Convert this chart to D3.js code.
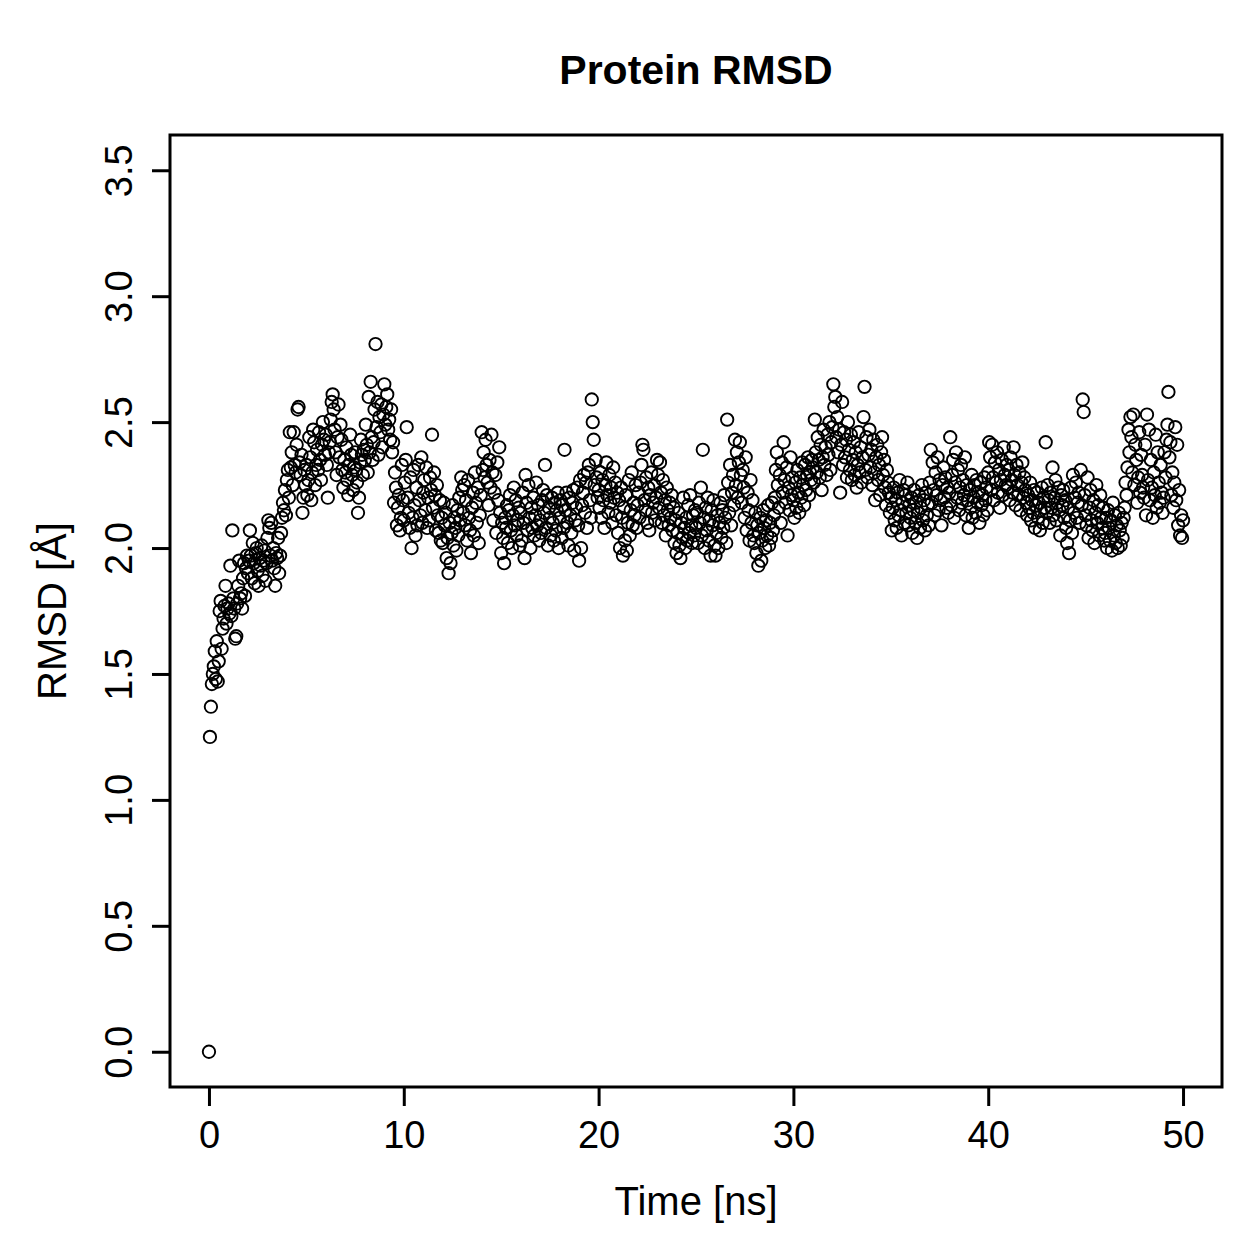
<!DOCTYPE html>
<html>
<head>
<meta charset="utf-8">
<script src="https://cdn.jsdelivr.net/npm/d3@7"></script>
<style>
  body { margin: 0; background: #fff; }
  text { font-family: "Liberation Sans", Arial, Helvetica, sans-serif; fill: #000; }
</style>
</head>
<body>
<div id="chart"></div>
<script>
// sampling step of the trajectory (ns)
var timeStep = 0.05;

// RMSD per frame (Å), one row per nanosecond
var rmsd = [
  0.00,1.25,1.37,1.46,1.50,1.53,1.59,1.48,1.63,1.47,1.55,1.75,1.79,1.60,1.68,1.72,1.77,1.85,1.70,1.76,
  1.78,1.74,1.93,1.73,2.07,1.80,1.76,1.64,1.65,1.78,1.85,1.95,1.80,1.82,1.76,1.88,1.94,1.81,1.92,1.97,
  1.90,1.95,2.07,1.97,1.88,2.02,1.94,1.86,1.98,2.00,1.91,1.85,1.96,1.93,2.01,1.89,1.95,1.99,1.87,1.94,
  2.04,2.11,2.08,1.97,2.10,1.95,2.00,1.92,1.85,1.98,1.96,2.04,1.90,1.97,2.06,2.12,2.18,2.15,2.23,2.13,
  2.27,2.31,2.20,2.46,2.32,2.38,2.25,2.46,2.33,2.30,2.41,2.55,2.56,2.34,2.29,2.37,2.14,2.20,2.31,2.25,
  2.33,2.21,2.27,2.44,2.36,2.19,2.30,2.47,2.42,2.25,2.33,2.39,2.31,2.46,2.35,2.27,2.41,2.50,2.43,2.37,
  2.45,2.33,2.20,2.38,2.42,2.51,2.58,2.61,2.55,2.47,2.38,2.29,2.44,2.57,2.36,2.49,2.43,2.31,2.24,2.35,
  2.30,2.40,2.27,2.21,2.33,2.45,2.37,2.29,2.23,2.32,2.38,2.31,2.26,2.14,2.20,2.34,2.43,2.37,2.29,2.39,
  2.35,2.49,2.41,2.30,2.60,2.38,2.66,2.44,2.35,2.42,2.55,2.81,2.48,2.58,2.37,2.52,2.46,2.57,2.40,2.53,
  2.65,2.49,2.56,2.61,2.47,2.51,2.43,2.55,2.38,2.42,2.18,2.30,2.24,2.09,2.16,2.21,2.07,2.12,2.33,2.19,
  2.11,2.26,2.35,2.48,2.20,2.14,2.08,2.28,2.00,2.12,2.31,2.17,2.05,2.24,2.09,2.33,2.19,2.13,2.36,2.10,
  2.22,2.27,2.15,2.32,2.08,2.20,2.11,2.28,2.23,2.45,2.16,2.30,2.21,2.07,2.25,2.13,2.06,2.19,2.03,2.12,
  2.02,2.18,2.09,2.14,1.96,2.04,1.90,2.10,1.94,2.06,2.17,2.01,2.12,2.08,1.99,2.15,2.05,2.20,2.11,2.28,
  2.23,2.14,2.25,2.09,2.19,2.03,2.27,2.12,2.07,1.98,2.16,2.22,2.05,2.30,2.18,2.10,2.24,2.02,2.13,2.21,
  2.46,2.31,2.38,2.28,2.43,2.33,2.26,2.17,2.35,2.24,2.45,2.30,2.11,2.22,2.29,2.06,2.34,2.19,2.40,2.14,
  1.98,2.10,2.04,1.94,2.12,2.08,2.17,2.02,2.15,2.21,2.07,2.00,2.13,2.24,2.09,2.19,2.05,2.11,2.16,2.01,
  2.14,2.03,2.22,2.10,1.96,2.29,2.18,2.07,2.25,2.12,2.00,2.16,2.08,2.20,2.05,2.13,2.26,2.09,2.17,2.03,
  2.11,2.06,2.19,2.23,2.14,2.33,2.08,2.21,2.01,2.16,2.12,2.05,2.20,2.10,2.03,2.18,2.07,2.15,2.22,2.00,
  2.12,2.19,2.04,2.17,2.08,2.39,2.15,2.22,2.10,2.01,2.20,2.13,2.06,2.18,2.23,1.99,2.11,2.16,2.24,2.09,
  1.95,2.27,2.00,2.17,2.22,2.29,2.14,2.26,2.08,2.30,2.33,2.19,2.12,2.59,2.50,2.43,2.25,2.35,2.28,2.20,
  2.23,2.16,2.30,2.12,2.27,2.19,2.08,2.25,2.34,2.21,2.14,2.29,2.18,2.24,2.10,2.32,2.20,2.26,2.13,2.22,
  2.06,2.19,2.00,2.24,2.12,1.97,2.16,2.03,2.21,1.99,2.10,2.27,2.05,2.15,2.30,2.09,2.18,2.13,2.25,2.08,
  2.17,2.22,2.12,2.26,2.33,2.41,2.39,2.19,2.15,2.28,2.10,2.24,2.07,2.21,2.30,2.14,2.18,2.25,2.11,2.20,
  2.35,2.29,2.16,2.34,2.22,2.10,2.27,2.13,2.19,2.05,2.24,2.15,2.09,2.18,2.12,2.21,2.07,2.16,2.02,2.11,
  1.98,2.06,2.14,2.01,1.96,2.10,2.04,2.20,2.08,2.00,2.12,2.03,2.17,2.06,2.21,2.09,2.02,2.13,2.05,2.15,
  2.08,2.14,2.02,2.18,2.10,2.24,2.05,2.39,2.12,2.00,2.16,2.07,2.20,2.03,2.11,1.97,2.15,2.09,2.19,2.01,
  1.97,2.06,2.13,2.00,2.10,2.18,2.04,2.15,2.08,2.21,2.12,2.02,2.51,2.26,2.14,2.33,2.09,2.22,2.29,2.17,
  2.43,2.25,2.38,2.20,2.34,2.42,2.29,2.18,2.31,2.24,2.12,2.36,2.07,2.22,2.15,2.03,2.27,2.10,2.19,2.05,
  2.02,2.14,1.98,2.09,1.93,2.06,2.12,1.95,2.03,2.15,2.08,2.00,2.11,2.05,2.17,2.01,2.10,2.04,2.18,2.07,
  2.13,2.20,2.31,2.38,2.25,2.16,2.29,2.10,2.34,2.22,2.42,2.27,2.18,2.32,2.05,2.24,2.15,2.36,2.21,2.28,
  2.19,2.12,2.26,2.16,2.31,2.22,2.14,2.28,2.20,2.34,2.25,2.17,2.33,2.23,2.29,2.36,2.21,2.30,2.27,2.35,
  2.32,2.26,2.51,2.38,2.30,2.44,2.35,2.28,2.41,2.23,2.36,2.47,2.33,2.40,2.29,2.45,2.37,2.50,2.31,2.42,
  2.48,2.65,2.56,2.60,2.44,2.52,2.38,2.47,2.22,2.41,2.58,2.33,2.46,2.36,2.43,2.28,2.50,2.39,2.31,2.45,
  2.27,2.35,2.42,2.29,2.38,2.24,2.33,2.46,2.30,2.40,2.26,2.36,2.52,2.64,2.31,2.44,2.28,2.37,2.47,2.32,
  2.39,2.25,2.43,2.30,2.19,2.36,2.41,2.27,2.33,2.21,2.38,2.44,2.29,2.35,2.24,2.17,2.31,2.26,2.22,2.14,
  2.20,2.07,2.16,2.24,2.11,2.19,2.08,2.22,2.13,2.27,2.15,2.05,2.18,2.23,2.10,2.21,2.14,2.26,2.09,2.17,
  2.12,2.20,2.06,2.15,2.23,2.10,2.18,2.04,2.14,2.21,2.08,2.16,2.25,2.11,2.19,2.07,2.22,2.13,2.17,2.09,
  2.26,2.39,2.18,2.34,2.23,2.13,2.30,2.21,2.36,2.15,2.27,2.19,2.09,2.25,2.32,2.20,2.28,2.16,2.24,2.14,
  2.22,2.44,2.17,2.29,2.35,2.12,2.26,2.38,2.20,2.31,2.15,2.24,2.33,2.18,2.27,2.21,2.36,2.13,2.25,2.19,
  2.08,2.23,2.16,2.29,2.12,2.20,2.25,2.14,2.27,2.18,2.22,2.10,2.26,2.17,2.21,2.13,2.28,2.19,2.24,2.15,
  2.30,2.42,2.36,2.23,2.41,2.28,2.19,2.34,2.26,2.38,2.22,2.31,2.16,2.27,2.35,2.21,2.40,2.29,2.25,2.33,
  2.24,2.31,2.19,2.36,2.27,2.22,2.40,2.29,2.17,2.33,2.25,2.21,2.30,2.15,2.26,2.34,2.20,2.28,2.23,2.18,
  2.13,2.21,2.16,2.26,2.11,2.19,2.14,2.23,2.08,2.17,2.22,2.12,2.18,2.07,2.15,2.24,2.10,2.20,2.16,2.42,
  2.14,2.25,2.19,2.10,2.22,2.16,2.32,2.13,2.20,2.27,2.11,2.18,2.24,2.15,2.05,2.21,2.17,2.23,2.12,2.19,
  2.08,2.02,2.16,1.98,2.11,2.24,2.06,2.29,2.14,2.20,2.26,2.12,2.18,2.22,2.10,2.31,2.17,2.59,2.54,2.21,
  2.13,2.09,2.28,2.04,2.16,2.23,2.11,2.07,2.19,2.02,2.14,2.25,2.10,2.17,2.05,2.21,2.12,2.08,2.16,2.03,
  2.06,2.12,2.00,2.15,2.08,2.03,2.11,1.99,2.18,2.05,2.13,2.02,2.09,2.00,2.14,2.07,2.01,2.10,2.04,2.12,
  2.16,2.26,2.21,2.32,2.47,2.38,2.52,2.44,2.30,2.53,2.25,2.41,2.35,2.18,2.28,2.46,2.22,2.37,2.29,2.24,
  2.20,2.41,2.13,2.53,2.27,2.47,2.19,2.35,2.24,2.12,2.30,2.21,2.45,2.16,2.38,2.26,2.18,2.33,2.22,2.14,
  2.20,2.38,2.28,2.43,2.49,2.62,2.36,2.42,2.21,2.30,2.16,2.26,2.48,2.19,2.41,2.09,2.23,2.05,2.13,2.04,
  2.11
];

var xTicks = [0, 10, 20, 30, 40, 50];
var yTicks = [0.0, 0.5, 1.0, 1.5, 2.0, 2.5, 3.0, 3.5];

function rmsdPlot() {
  var w = 1259, h = 1259;
  var pLeft = 170, pRight = 1222, pTop = 135, pBottom = 1087;
  var font = '"Liberation Sans", Arial, Helvetica, sans-serif';

  // R style ranges: limits widened by 4%
  var x = d3.scaleLinear().domain([-2, 52]).range([pLeft, pRight]);
  var y = d3.scaleLinear().domain([-0.14, 3.64]).range([pBottom, pTop]);

  var svg = d3.select('#chart')
    .append('svg')
    .attr('width', w)
    .attr('height', h);

  // points
  svg.append('g')
    .selectAll('circle')
    .data(rmsd)
    .enter()
    .append('circle')
    .attr('cx', function(d, i) { return x(i * timeStep); })
    .attr('cy', function(d) { return y(d); })
    .attr('r', 6.2)
    .attr('fill', 'none')
    .attr('stroke', '#000')
    .attr('stroke-width', 1.9);

  // x axis
  var xAxis = svg.append('g')
    .attr('transform', 'translate(0,' + pBottom + ')')
    .call(d3.axisBottom(x).tickValues(xTicks).tickSize(19).tickFormat(d3.format('d')));
  xAxis.select('.domain').remove();
  xAxis.selectAll('line').attr('stroke-width', 3);
  xAxis.selectAll('text')
    .attr('y', 61)
    .attr('dy', 0)
    .style('font-size', '38px')
    .style('font-family', font);

  // y axis
  var yAxis = svg.append('g')
    .attr('transform', 'translate(' + pLeft + ',0)')
    .call(d3.axisLeft(y).tickValues(yTicks).tickSize(18).tickFormat(d3.format('.1f')));
  yAxis.select('.domain').remove();
  yAxis.selectAll('line').attr('stroke-width', 3);
  yAxis.selectAll('text')
    .attr('x', 0)
    .attr('dy', 0)
    .attr('text-anchor', 'middle')
    .attr('transform', 'translate(-38,0) rotate(-90)')
    .style('font-size', '38px')
    .style('font-family', font);

  // box
  svg.append('rect')
    .attr('x', pLeft)
    .attr('y', pTop)
    .attr('width', pRight - pLeft)
    .attr('height', pBottom - pTop)
    .attr('fill', 'none')
    .attr('stroke', '#000')
    .attr('stroke-width', 3);

  // title and labels
  svg.append('text')
    .text('Protein RMSD')
    .attr('x', (pLeft + pRight) / 2)
    .attr('y', 84)
    .attr('text-anchor', 'middle')
    .style('font-weight', 'bold')
    .style('font-size', '41px');

  svg.append('text')
    .text('Time [ns]')
    .attr('x', (pLeft + pRight) / 2)
    .attr('y', 1215)
    .attr('text-anchor', 'middle')
    .style('font-size', '40px');

  svg.append('text')
    .text('RMSD [Å]')
    .attr('transform', 'translate(66,' + (pTop + pBottom) / 2 + ') rotate(-90)')
    .attr('text-anchor', 'middle')
    .style('font-size', '40px');
}

rmsdPlot();
</script>
</body>
</html>
